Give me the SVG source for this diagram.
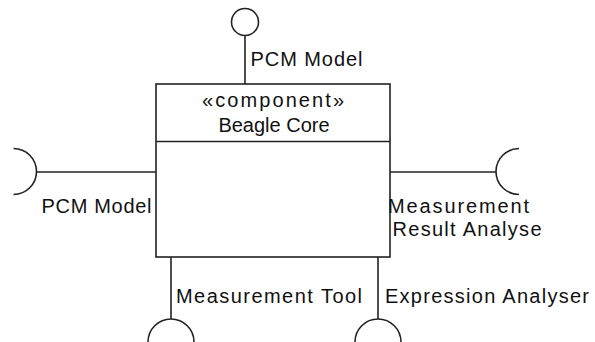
<svg xmlns="http://www.w3.org/2000/svg" width="595" height="342" viewBox="0 0 595 342">
<style>
.ln{fill:none;stroke:#222;stroke-width:1.6}
.box{fill:#fff;stroke:#222;stroke-width:1.6}
.t{font-family:"Liberation Sans",Arial,Helvetica,sans-serif;font-size:20px;fill:#111}
.c{text-anchor:middle}
</style>
<defs>
<clipPath id="clipR"><rect x="380" y="215" width="161" height="30"/></clipPath>
</defs>
<rect width="595" height="342" fill="#fff"/>
<g id="connectors">
<line class="ln" x1="245" y1="35.5" x2="245" y2="84"/>
<line class="ln" x1="36.5" y1="172" x2="156" y2="172"/>
<line class="ln" x1="390" y1="172" x2="496" y2="172"/>
<line class="ln" x1="171" y1="257" x2="171" y2="319"/>
<line class="ln" x1="378" y1="257" x2="378" y2="319"/>
</g>
<g id="beagle-core">
<rect class="box" x="156" y="84" width="234" height="173"/>
<line class="ln" x1="156" y1="141.5" x2="390" y2="141.5"/>
<text class="t c" x="273" y="107" textLength="142" lengthAdjust="spacing">«component»</text>
<text class="t c" x="274" y="132">Beagle Core</text>
</g>
<g id="if-pcm-provided">
<circle class="ln" cx="245" cy="22" r="13.5"/>
<text class="t" x="250.5" y="66" textLength="112" lengthAdjust="spacing">PCM Model</text>
</g>
<g id="if-pcm-required">
<path class="ln" d="M13.5,148.5 A23,23 0 0,1 13.5,194.5"/>
<text class="t" x="41.5" y="213" textLength="110" lengthAdjust="spacing">PCM Model</text>
</g>
<g id="if-measurement-result-analyser">
<path class="ln" d="M519,148.5 A23,23 0 0,0 519,194.5"/>
<text class="t" x="388" y="212.5" textLength="141" lengthAdjust="spacing">Measurement</text>
<text class="t" x="392.5" y="236" clip-path="url(#clipR)" textLength="149" lengthAdjust="spacing">Result Analyse</text>
</g>
<g id="if-measurement-tool">
<path class="ln" d="M148,342 A23,23 0 0,1 194,342"/>
<text class="t" x="176" y="303" textLength="186" lengthAdjust="spacing">Measurement Tool</text>
</g>
<g id="if-expression-analyser">
<path class="ln" d="M355,342 A23,23 0 0,1 401,342"/>
<text class="t" x="385" y="303" textLength="204" lengthAdjust="spacing">Expression Analyser</text>
</g>
</svg>
